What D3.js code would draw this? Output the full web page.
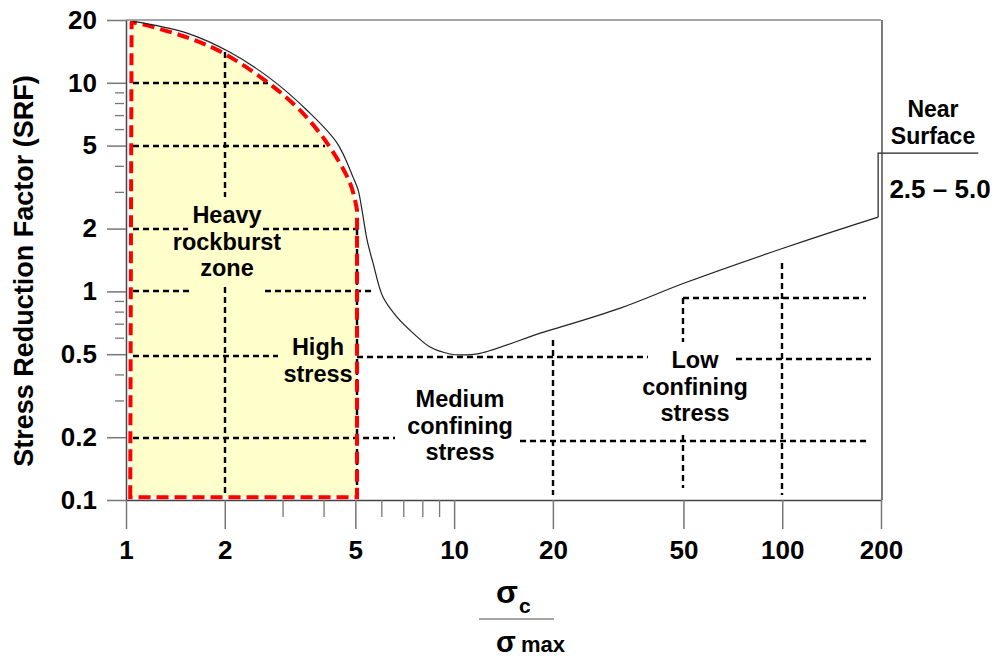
<!DOCTYPE html>
<html>
<head>
<meta charset="utf-8">
<script src="https://cdn.jsdelivr.net/npm/d3@7"></script>
<style>
  body { margin: 0; background: #fff; }
  svg { display: block; }
  text { font-family: "Liberation Sans", Arial, sans-serif; font-weight: bold; fill: #000; }
</style>
</head>
<body>
<svg id="chart" width="995" height="659"></svg>
<script>
// ---- axis ticks ----
const xTicks = [1, 2, 5, 10, 20, 50, 100, 200];
const xMinor = [3, 4, 6, 7, 8, 9];
const yTicks = [0.1, 0.2, 0.5, 1, 2, 5, 10, 20];
const yMinor = [0.3, 0.4, 0.6, 0.7, 0.8, 0.9, 3, 4, 6, 7, 8, 9];

// ---- SRF curve vs. sigma_c / sigma_max ----
const curveRatio = [1.05, 1.10, 1.535, 2.075, 2.75, 3.56, 4.40, 4.92, 5.10, 5.24, 5.43, 5.66, 6.07, 6.70, 7.50, 8.45, 9.72, 10.4, 12.0, 18.3, 20.6, 32.1, 51.3, 100.6, 196];
const curveSRF   = [19.7, 19.5, 17.3, 14.0, 10.5, 7.39, 5.14, 3.53, 3.06, 2.45, 1.76, 1.37, 0.939, 0.753, 0.631, 0.541, 0.501, 0.496, 0.505, 0.631, 0.667, 0.832, 1.109, 1.61, 2.27];

// near-surface step (ratio, SRF)
const surfaceRatio = [196, 196, 396];
const surfaceSRF   = [2.27, 4.6, 4.6];

// heavy rockburst zone outline
const zoneEdgeRatio = [1.03, 1.04];           // left edge, bottom to top
const zoneEdgeSRF   = [0.103, 19.4];
const zoneArcRatio  = [1.04, 1.065, 1.535, 1.975, 2.69, 3.39, 4.10, 4.82, 5.06];
const zoneArcSRF    = [19.4, 19.4, 16.5, 13.9, 10.1, 7.39, 5.14, 3.30, 2.45];
const zoneBaseRatio = [5.06, 1.03];           // right edge down, then along the base
const zoneBaseSRF   = [0.103, 0.103];

// dashed class boundaries: [ratio1, srf1, ratio2, srf2]
const hSegments = [
  [1.05, 10, 2.71, 10],
  [1.05, 5, 4.04, 5],
  [1.05, 2, 1.545, 2], [2.62, 2, 5.06, 2],
  [1.05, 1, 1.58, 1], [2.65, 1, 5.63, 1],
  [1.05, 0.49, 2.91, 0.49], [5.06, 0.485, 39.0, 0.485], [72.1, 0.475, 186, 0.475],
  [1.05, 0.198, 6.61, 0.198], [15.9, 0.192, 183, 0.192],
  [50, 0.93, 180, 0.93]
];
const vSegments = [
  [2, 14.0, 2, 2.84], [2, 1.05, 2, 0.105],
  [5.06, 2, 5.06, 0.103],
  [20, 0.584, 20, 0.106],
  [50, 0.93, 50, 0.57], [50, 0.205, 50, 0.114],
  [100, 1.37, 100, 0.106]
];

const svg = d3.select("#chart");
const x = d3.scaleLog().domain([1, 200]).range([126, 881]);
const y = d3.scaleLog().domain([0.1, 20]).range([500, 20]);

// ---- zone fill + red dashed outline ----
const arcLine = d3.line().x(d => x(d[0])).y(d => y(d[1])).curve(d3.curveCatmullRom.alpha(0.5));
const arcPts = zoneArcRatio.map((r, i) => [r, zoneArcSRF[i]]);
const edge = zoneEdgeRatio.map((r, i) => [x(r), y(zoneEdgeSRF[i])]);
const base = zoneBaseRatio.map((r, i) => [x(r), y(zoneBaseSRF[i])]);
const zonePath = "M" + edge[0].join(",") + "L" + edge[1].join(",") +
  arcLine(arcPts).replace(/^M/, "L") +
  "L" + base[0].join(",") + "L" + base[1].join(",") + "Z";

svg.append("path").attr("d", zonePath).attr("fill", "#FFFFCC").attr("stroke", "none");

// ---- dashed boundaries ----
const dashG = svg.append("g").attr("stroke", "#000").attr("stroke-width", 2.4)
  .attr("stroke-dasharray", "6,4").attr("fill", "none");
hSegments.concat(vSegments).forEach(s => {
  dashG.append("line")
    .attr("x1", Math.round(x(s[0]))).attr("y1", Math.round(y(s[1])))
    .attr("x2", Math.round(x(s[2]))).attr("y2", Math.round(y(s[3])));
});

svg.append("path").attr("d", zonePath).attr("fill", "none")
  .attr("stroke", "#FF0000").attr("stroke-width", 4).attr("stroke-dasharray", "12,6");

// ---- SRF curve ----
const curveLine = d3.line().x(d => x(d[0])).y(d => y(d[1])).curve(d3.curveCatmullRom.alpha(0.5));
svg.append("path")
  .attr("d", curveLine(curveRatio.map((r, i) => [r, curveSRF[i]])))
  .attr("fill", "none").attr("stroke", "#222").attr("stroke-width", 1.2);
svg.append("path")
  .attr("d", d3.line().x(d => x(d[0])).y(d => y(d[1]))(surfaceRatio.map((r, i) => [r, surfaceSRF[i]])))
  .attr("fill", "none").attr("stroke", "#222").attr("stroke-width", 1.2);

// ---- frame ----
svg.append("line").attr("x1", x(1)).attr("x2", x(200)).attr("y1", y(20)).attr("y2", y(20))
  .attr("stroke", "#888").attr("stroke-width", 1.5);
svg.append("line").attr("x1", x(200) + 1).attr("x2", x(200) + 1).attr("y1", y(20)).attr("y2", y(0.1))
  .attr("stroke", "#333").attr("stroke-width", 1.3);

// ---- axes ----
const fmt = d => String(d);
const yAxis = svg.append("g").attr("transform", `translate(${x(1)},0)`)
  .call(d3.axisLeft(y).tickValues(yTicks).tickFormat(fmt).tickSize(19).tickSizeOuter(0).tickPadding(10));
const yMinorAxis = svg.append("g").attr("transform", `translate(${x(1) - 2},0)`)
  .call(d3.axisLeft(y).tickValues(yMinor).tickFormat("").tickSize(9).tickSizeOuter(0));
const xAxis = svg.append("g").attr("transform", `translate(0,${y(0.1)})`)
  .call(d3.axisBottom(x).tickValues(xTicks).tickFormat(fmt).tickSize(29).tickSizeOuter(0).tickPadding(12));
const xMinorAxis = svg.append("g").attr("transform", `translate(0,${y(0.1)})`)
  .call(d3.axisBottom(x).tickValues(xMinor).tickFormat("").tickSize(17).tickSizeOuter(0));

[yAxis, xAxis].forEach(g => {
  g.select(".domain").attr("stroke", "#444").attr("stroke-width", 1.5);
  g.selectAll(".tick line").attr("stroke", "#777").attr("stroke-width", 1.5);
  g.selectAll(".tick text").attr("font-size", 26).attr("font-weight", "bold")
    .attr("font-family", "Liberation Sans, Arial, sans-serif").attr("fill", "#000");
});
[yMinorAxis, xMinorAxis].forEach(g => {
  g.select(".domain").remove();
  g.selectAll(".tick line").attr("stroke", "#777").attr("stroke-width", 1.3);
});

// ---- axis titles ----
svg.append("text")
  .attr("transform", "translate(33,271) rotate(-90)")
  .attr("text-anchor", "middle").attr("font-size", 27)
  .text("Stress Reduction Factor (SRF)");

svg.append("text").attr("x", 496).attr("y", 603).attr("font-size", 32).text("σ");
svg.append("text").attr("x", 519).attr("y", 613).attr("font-size", 21).text("c");
svg.append("line").attr("x1", 479).attr("x2", 554).attr("y1", 619).attr("y2", 619)
  .attr("stroke", "#888").attr("stroke-width", 1.5);
svg.append("text").attr("x", 496).attr("y", 652).attr("font-size", 29).text("σ");
svg.append("text").attr("x", 521).attr("y", 652).attr("font-size", 22).text("max");

// ---- region labels ----
function label(cx, baseline, lines, size) {
  const t = svg.append("text").attr("text-anchor", "middle").attr("font-size", size || 23.5);
  lines.forEach((s, i) => {
    t.append("tspan").attr("x", cx).attr("y", baseline + i * 26.7).text(s);
  });
}
label(227, 223, ["Heavy", "rockburst", "zone"]);
label(318, 355, ["High", "stress"]);
label(460, 407, ["Medium", "confining", "stress"]);
label(695, 368, ["Low", "confining", "stress"]);
label(933, 117, ["Near", "Surface"], 23);
label(940, 198, ["2.5 – 5.0"], 26);
</script>
</body>
</html>
